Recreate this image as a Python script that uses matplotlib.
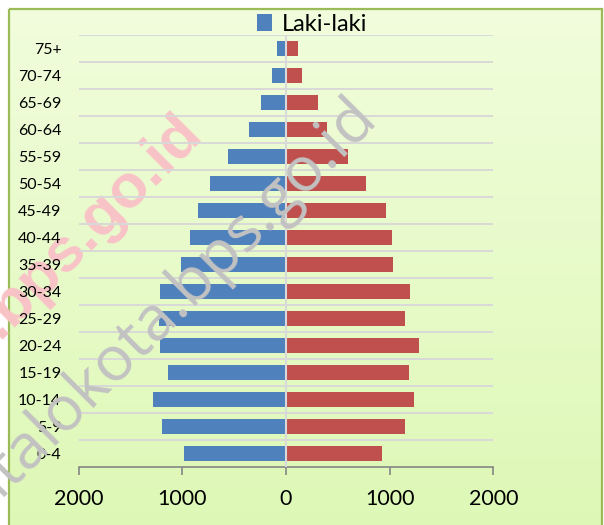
import numpy as np
import matplotlib
matplotlib.use("Agg")
import matplotlib.pyplot as plt
from matplotlib.patches import Rectangle
from matplotlib.ticker import FuncFormatter

plt.rcParams['font.family'] = ['Lato', 'DejaVu Sans']

# age groups, youngest at the bottom
age_groups = ['0-4', '5-9', '10-14', '15-19', '20-24', '25-29', '30-34', '35-39',
              '40-44', '45-49', '50-54', '55-59', '60-64', '65-69', '70-74', '75+']
# population per group
laki_laki = [987, 1196, 1283, 1138, 1213, 1225, 1213, 1010,
             926, 849, 733, 556, 356, 245, 135, 84]
perempuan = [928, 1146, 1237, 1182, 1285, 1150, 1195, 1032,
             1022, 967, 772, 596, 392, 308, 155, 120]
x_ticks = [-2000, -1000, 0, 1000, 2000]

W, H = 604, 525
fig = plt.figure(figsize=(W / 100, H / 100), dpi=100)

# background: white page, green framed chart area with a soft gradient
bg = fig.add_axes([0, 0, 1, 1], zorder=0)
bg.set_xlim(0, W)
bg.set_ylim(H, 0)
bg.axis('off')
top = np.array([241, 253, 220]) / 255
bottom = np.array([221, 248, 181]) / 255
t = np.linspace(0, 1, 256)[:, None, None]
grad = top * (1 - t) + bottom * t
bg.imshow(grad, extent=(8.5, 602, 540, 8.5), aspect='auto', zorder=0)
bg.add_patch(Rectangle((8.5, 8.5), 593.5, 540, fill=False,
                       edgecolor='#9BBB59', linewidth=1.6, zorder=1))
# watermark (pink, behind the chart)
bg.text(204, 136, 'gorontalokota.bps.go.id', rotation=45, rotation_mode='anchor',
        ha='right', va='baseline', fontsize=44, fontweight='bold',
        family='Liberation Sans', color='#F9C3C6', zorder=2)

# the pyramid
ax = fig.add_axes([78.7 / W, 1 - 466.7 / H, (493.3 - 78.7) / W, (466.7 - 35) / H], zorder=1)
ax.patch.set_visible(False)
y = np.arange(len(age_groups))
bars_l = ax.barh(y, -np.array(laki_laki), height=0.57, color='#4F81BD',
                 label='Laki-laki', zorder=2)
bars_p = ax.barh(y, perempuan, height=0.57, color='#C0504D',
                 label='Perempuan', zorder=2)
ax.axvline(0, color='#D9D9D9', linewidth=1.5, zorder=3)

ax.set_xlim(-2000, 2000)
ax.set_ylim(-0.5, len(age_groups) - 0.5)
ax.set_yticks(y)
ax.set_yticklabels(age_groups, fontsize=11.5)
ax.set_yticks(y + 0.5, minor=True)
ax.grid(which='minor', axis='y', color='#D9D9D9', linewidth=1.4, zorder=0)
ax.set_xticks(x_ticks)
ax.xaxis.set_major_formatter(FuncFormatter(lambda v, p: f'{abs(int(v))}'))
ax.tick_params(axis='y', which='both', length=0, pad=12.5)
ax.tick_params(axis='x', direction='out', length=6, width=1.2, color='#868686',
               labelsize=15.5, pad=10)
for side in ['left', 'right', 'top']:
    ax.spines[side].set_visible(False)
ax.spines['bottom'].set_color('#868686')
ax.spines['bottom'].set_linewidth(1.2)

fig.legend(handles=[bars_l], loc='center', bbox_to_anchor=(312 / W, 1 - 24.5 / H),
           frameon=False, fontsize=17, handlelength=0.65, handleheight=0.75,
           handletextpad=0.4, borderpad=0)

# watermark (gray, on top)
fig.text(379 / W, 1 - 122 / H, 'gorontalokota.bps.go.id', rotation=45,
         rotation_mode='anchor', ha='right', va='baseline', fontsize=45,
         family='Open Sans', color='#C2C2C2', zorder=5)

fig.savefig('out.png', dpi=100)
